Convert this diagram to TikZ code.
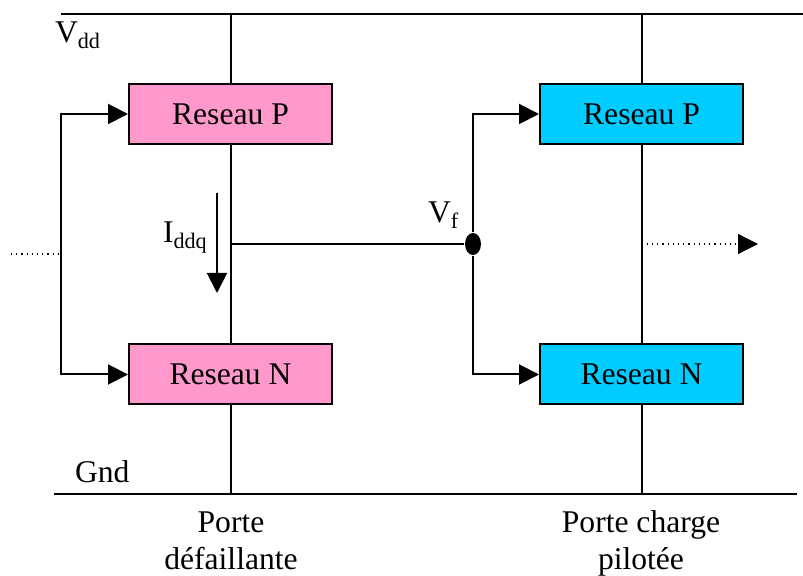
\documentclass[tikz,border=0pt]{standalone}
\usepackage{fontspec}
\setmainfont{Liberation Serif}
\usetikzlibrary{arrows.meta,shapes.geometric}

\definecolor{DefautColor}{RGB}{255,153,204}
\definecolor{ChargeColor}{RGB}{0,204,255}

\begin{document}
\begin{tikzpicture}[x=0.5pt,y=-0.5pt,line width=1pt,
	reseau/.style={draw,minimum width=101.5pt,minimum height=30pt,inner sep=0pt,font=\fontsize{15.8}{18.5}\selectfont},
	lbl/.style={inner sep=0pt,font=\fontsize{15.8}{18.5}\selectfont},
	tip/.style={-{Triangle[length=10pt,width=10pt]}},
	jonction/.style={ellipse,fill,inner sep=0pt,minimum width=8pt,minimum height=11pt}]
	\useasboundingbox (0,0) rectangle (803,576);
	% rails
	\coordinate (vddL) at (61,14);
	\coordinate (vddR) at (803,14);
	\coordinate (gndL) at (54,494);
	\coordinate (gndR) at (797,494);
	\draw (vddL) -- (vddR);
	\draw (gndL) -- (gndR);
	\node [lbl,anchor=base west] (vdd) at (54,43) {V\textsubscript{dd}};
	\node [lbl,anchor=base west] (gnd) at (74,483) {Gnd};
	% porte defaillante
	\node [reseau,fill=DefautColor] (pA) at (230.5,114) {Reseau P};
	\node [reseau,fill=DefautColor] (nA) at (230.5,374.5) {Reseau N};
	\draw (pA) -- (pA |- vddL);
	\draw (pA) -- (nA);
	\draw (nA) -- (nA |- gndL);
	% porte pilotee
	\node [reseau,fill=ChargeColor] (pB) at (641.5,114) {Reseau P};
	\node [reseau,fill=ChargeColor] (nB) at (641.5,374.5) {Reseau N};
	\draw (pB) -- (pB |- vddL);
	\draw (pB) -- (nB);
	\draw (nB) -- (nB |- gndL);
	% entrees
	\coordinate (inA) at (61,254);
	\coordinate (srcA) at (11,254);
	\draw [tip] (inA) |- (pA);
	\draw [tip] (inA) |- (nA);
	\draw [dotted,line width=0.6pt] (srcA) -- (inA);
	\node [jonction] (vf) at (473,244) {};
	\draw (pA |- vf) -- (vf);
	\draw [tip] (vf) |- (pB);
	\draw [tip] (vf) |- (nB);
	\node [lbl,anchor=base west] (vfl) at (427,223) {V\textsubscript{f}};
	% sortie
	\coordinate (outB) at (758,244);
	\draw [dotted,line width=0.6pt,tip] (pB |- vf) -- (outB);
	% courant
	\coordinate (iTop) at (217,193);
	\coordinate (iBot) at (217,293);
	\draw [tip] (iTop) -- (iBot);
	\node [lbl,anchor=base west] (iddq) at (162,243) {I\textsubscript{ddq}};
	% legendes
	\node [lbl,align=center,anchor=base] (legA) at (231,570) {Porte\\défaillante};
	\node [lbl,align=center,anchor=base] (legB) at (641,570) {Porte charge\\pilotée};
\end{tikzpicture}
\end{document}
